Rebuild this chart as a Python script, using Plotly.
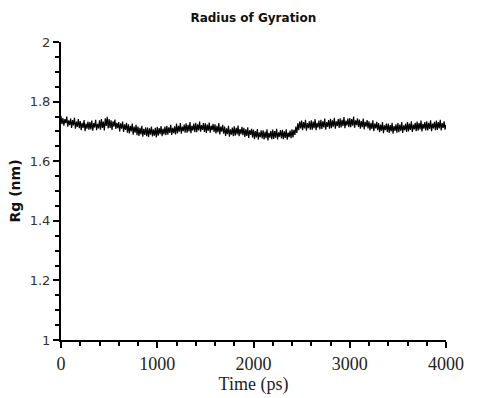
import plotly.graph_objects as go

time_step_ps = 10
rg_nm = [
    1.752, 1.724, 1.745, 1.719, 1.741, 1.728, 1.750, 1.716, 1.737, 1.721,
    1.743, 1.712, 1.738, 1.720, 1.746, 1.709, 1.733, 1.715, 1.741, 1.711,
    1.735, 1.704, 1.729, 1.712, 1.738, 1.701, 1.726, 1.709, 1.733, 1.706,
    1.731, 1.707, 1.736, 1.702, 1.728, 1.713, 1.739, 1.704, 1.725, 1.710,
    1.737, 1.706, 1.741, 1.712, 1.733, 1.703, 1.744, 1.718, 1.749, 1.710,
    1.741, 1.712, 1.737, 1.705, 1.734, 1.716, 1.740, 1.708, 1.729, 1.711,
    1.731, 1.700, 1.727, 1.709, 1.733, 1.698, 1.724, 1.705, 1.729, 1.696,
    1.724, 1.693, 1.719, 1.700, 1.726, 1.689, 1.716, 1.696, 1.722, 1.687,
    1.716, 1.685, 1.712, 1.690, 1.719, 1.682, 1.709, 1.688, 1.714, 1.684,
    1.713, 1.681, 1.710, 1.689, 1.716, 1.683, 1.707, 1.686, 1.712, 1.680,
    1.715, 1.686, 1.711, 1.691, 1.718, 1.684, 1.709, 1.690, 1.716, 1.687,
    1.719, 1.689, 1.714, 1.695, 1.722, 1.688, 1.712, 1.694, 1.717, 1.690,
    1.726, 1.693, 1.719, 1.699, 1.728, 1.692, 1.716, 1.701, 1.723, 1.696,
    1.727, 1.696, 1.722, 1.700, 1.731, 1.694, 1.719, 1.703, 1.726, 1.697,
    1.729, 1.697, 1.724, 1.703, 1.733, 1.699, 1.721, 1.705, 1.728, 1.698,
    1.727, 1.695, 1.723, 1.702, 1.730, 1.696, 1.719, 1.704, 1.725, 1.698,
    1.724, 1.693, 1.719, 1.697, 1.728, 1.690, 1.716, 1.699, 1.722, 1.692,
    1.716, 1.685, 1.710, 1.691, 1.719, 1.682, 1.707, 1.689, 1.713, 1.684,
    1.717, 1.686, 1.712, 1.690, 1.720, 1.684, 1.708, 1.691, 1.715, 1.687,
    1.712, 1.681, 1.707, 1.685, 1.714, 1.678, 1.704, 1.688, 1.709, 1.680,
    1.706, 1.674, 1.701, 1.680, 1.708, 1.672, 1.697, 1.681, 1.704, 1.676,
    1.704, 1.673, 1.699, 1.677, 1.707, 1.670, 1.695, 1.679, 1.702, 1.674,
    1.706, 1.675, 1.701, 1.679, 1.709, 1.673, 1.697, 1.682, 1.704, 1.676,
    1.705, 1.674, 1.700, 1.678, 1.707, 1.672, 1.696, 1.681, 1.703, 1.677,
    1.707, 1.680, 1.705, 1.688, 1.716, 1.695, 1.727, 1.704, 1.733, 1.710,
    1.736, 1.704, 1.731, 1.710, 1.739, 1.702, 1.728, 1.711, 1.734, 1.706,
    1.737, 1.706, 1.733, 1.711, 1.741, 1.704, 1.729, 1.713, 1.736, 1.707,
    1.739, 1.708, 1.734, 1.713, 1.743, 1.706, 1.731, 1.715, 1.738, 1.709,
    1.742, 1.711, 1.737, 1.716, 1.746, 1.709, 1.734, 1.718, 1.741, 1.712,
    1.744, 1.713, 1.739, 1.718, 1.748, 1.711, 1.736, 1.720, 1.743, 1.714,
    1.745, 1.714, 1.741, 1.719, 1.750, 1.712, 1.737, 1.721, 1.744, 1.715,
    1.740, 1.709, 1.735, 1.714, 1.743, 1.707, 1.732, 1.716, 1.738, 1.710,
    1.734, 1.703, 1.729, 1.708, 1.737, 1.701, 1.726, 1.710, 1.732, 1.704,
    1.728, 1.697, 1.723, 1.702, 1.731, 1.694, 1.720, 1.704, 1.726, 1.698,
    1.726, 1.695, 1.721, 1.700, 1.729, 1.692, 1.718, 1.702, 1.724, 1.696,
    1.728, 1.697, 1.723, 1.702, 1.731, 1.695, 1.720, 1.704, 1.726, 1.698,
    1.731, 1.700, 1.726, 1.705, 1.734, 1.698, 1.723, 1.707, 1.729, 1.701,
    1.733, 1.702, 1.728, 1.707, 1.736, 1.700, 1.725, 1.709, 1.731, 1.703,
    1.734, 1.703, 1.729, 1.708, 1.737, 1.701, 1.726, 1.710, 1.732, 1.704,
    1.736, 1.705, 1.731, 1.710, 1.739, 1.703, 1.728, 1.712, 1.734, 1.706,
    1.722,
]
time_ps = [i * time_step_ps for i in range(len(rg_nm))]

x_ticks = [0, 1000, 2000, 3000, 4000]
y_ticks = [1, 1.2, 1.4, 1.6, 1.8, 2]

fig = go.Figure()
fig.add_trace(go.Scatter(
    x=time_ps, y=rg_nm, mode="lines",
    line=dict(color="black", width=1.2),
    showlegend=False,
))

fig.update_layout(
    width=478, height=398,
    margin=dict(l=61, r=32, t=42, b=48),
    paper_bgcolor="white", plot_bgcolor="white",
    title=dict(text="<b>Radius of Gyration</b>", x=0.53, xanchor="center",
               y=0.955, yanchor="middle",
               font=dict(family="DejaVu Sans", size=12, color="#111")),
)
fig.update_xaxes(
    range=[0, 4000], tickvals=x_ticks, ticktext=[str(v) for v in x_ticks],
    showgrid=False, zeroline=False,
    showline=True, linecolor="black", linewidth=2,
    ticks="outside", ticklen=6, tickwidth=2, tickcolor="black",
    minor=dict(dtick=200, ticks="outside", ticklen=4, tickwidth=2, tickcolor="black"),
    tickfont=dict(family="Liberation Serif", size=18, color="#222"),
    title=dict(text="Time (ps)", standoff=0,
               font=dict(family="Liberation Serif", size=18, color="#222")),
)
fig.update_yaxes(
    range=[1, 2], tickvals=y_ticks, ticktext=[str(v) for v in y_ticks],
    showgrid=False, zeroline=False,
    showline=True, linecolor="black", linewidth=2,
    ticks="outside", ticklen=6, tickwidth=2, tickcolor="black",
    minor=dict(dtick=0.05, ticks="outside", ticklen=4, tickwidth=2, tickcolor="black"),
    tickfont=dict(family="DejaVu Sans", size=13, color="#333"),
    title=dict(text="<b>Rg (nm)</b>", standoff=6,
               font=dict(family="DejaVu Sans", size=14, color="#111")),
)

fig.write_html("out.html")
